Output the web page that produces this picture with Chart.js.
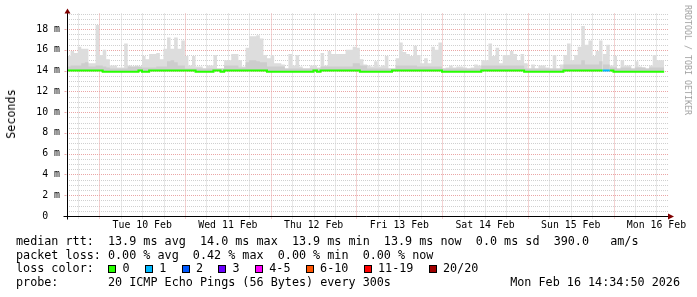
<!DOCTYPE html>
<html>
<head>
<meta charset="utf-8">
<script src="https://cdn.jsdelivr.net/npm/chart.js@4.4.1/dist/chart.umd.min.js"></script>
<style>
  html, body { margin: 0; padding: 0; background: #fff; }
  #wrap { position: relative; width: 697px; height: 297px; overflow: hidden;
          font-family: "DejaVu Sans Mono", monospace; color: #000; }
  #wrap canvas { position: absolute; left: 0; top: 0; }
  .txt { position: absolute; white-space: pre; font-size: 11.76px; line-height: 13.6px; }
  .rot { position: absolute; white-space: pre; transform: translate(-50%, -50%) rotate(-90deg); }
  .box { display: inline-block; width: 8px; height: 8px; box-sizing: border-box;
         border: 1px solid #000; vertical-align: -0.5px; }
  .loss-item { display: inline-block; margin-right: 15.3px; }
  .loss-item span.lbl { margin-left: 6.3px; }
</style>
</head>
<body>
<div id="wrap">
  <canvas id="chart" width="697" height="297"></canvas>
  <div class="rot" style="left:10.8px; top:114px; font-size:11.76px;">Seconds</div>
  <div class="rot" style="left:687.5px; top:60px; font-size:8.3px; color:#a0a0a0; transform:translate(-50%,-50%) rotate(90deg);">RRDTOOL / TOBI OETIKER</div>
  <div class="txt" id="row1" style="left:16px; top:234.9px;"></div>
  <div class="txt" id="row2" style="left:16px; top:248.5px;"></div>
  <div class="txt" style="left:16px; top:262.1px;">loss color:</div>
  <div class="txt" id="lossRow" style="left:108.3px; top:262.1px;"></div>
  <div class="txt" id="row4" style="left:16px; top:275.7px;"></div>
  <div class="txt" id="stamp" style="right:17px; top:275.7px;"></div>
</div>
<script>
// ── Data (hourly bins over 7 days, milliseconds) ─────────
const dayLabels = ['Tue 10 Feb', 'Wed 11 Feb', 'Thu 12 Feb', 'Fri 13 Feb', 'Sat 14 Feb', 'Sun 15 Feb', 'Mon 16 Feb'];
const firstMidnight = 9.05;   // hours from graph start to Tue 00:00
const spanHours = 168;
const dataEnd = 167.2;
const yMax = 19.5;

const smokeMax = [
  16.4,15.4,15.9,15.7,16.3,16.1,16.1,14.7,14.7,18.4,15.5,16.0,
  15.1,14.5,14.5,14.3,14.3,16.6,14.5,14.4,14.5,14.4,15.4,15.1,
  15.6,15.6,15.7,15.1,16.1,17.2,16.1,17.2,16.1,16.9,15.4,14.5,
  15.4,14.4,14.4,14.2,14.5,14.5,15.5,14.2,14.2,15.0,15.0,15.6,
  15.6,15.0,14.4,16.2,17.3,17.3,17.4,17.1,15.5,15.2,15.5,14.7,
  14.7,14.6,14.2,15.6,14.5,15.5,14.4,14.2,14.2,14.5,14.5,14.3,
  15.7,14.5,15.9,15.6,15.6,15.6,15.6,16.0,16.0,16.3,16.2,15.1,
  14.6,14.5,14.4,14.9,14.4,14.5,15.4,14.2,14.2,15.2,16.7,15.8,
  15.6,15.4,16.4,15.5,14.7,15.2,14.7,16.3,16.0,16.7,14.2,14.3,
  14.5,14.3,14.4,14.4,14.3,14.2,14.3,14.6,14.5,15.0,15.0,16.6,
  15.4,16.2,14.7,15.5,15.5,15.9,15.6,15.0,15.6,14.7,14.2,14.6,
  14.2,14.5,14.5,14.3,14.2,15.5,14.2,14.6,15.5,16.6,15.0,15.5,
  16.3,18.3,16.5,16.9,15.4,15.9,16.9,15.6,16.5,14.5,15.4,14.2,
  15.0,14.5,14.5,14.2,14.9,14.4,14.3,14.2,14.5,15.5,15.0,15.0
];

const smokeMid = [
  14.4,14.4,14.5,14.5,14.5,14.7,14.8,14.4,14.4,14.5,14.5,14.4,
  14.3,14.2,14.2,14.2,14.2,14.2,14.4,14.4,14.4,14.4,14.3,14.3,
  14.3,14.3,14.4,14.4,14.4,14.9,15.0,14.8,14.5,14.5,14.2,14.2,
  14.2,14.2,14.2,14.2,14.2,14.2,14.2,14.2,14.2,14.5,14.5,14.5,
  14.5,14.3,14.3,14.8,15.0,15.0,14.9,14.8,14.8,14.4,14.4,14.4,
  14.4,14.4,14.2,14.2,14.2,14.2,14.2,14.2,14.2,14.2,14.2,14.2,
  14.4,14.4,14.4,14.4,14.4,14.4,14.4,14.4,14.4,14.7,14.7,14.5,
  14.5,14.2,14.2,14.2,14.2,14.2,14.2,14.2,14.2,14.5,14.5,14.5,
  14.5,14.5,14.5,14.4,14.4,14.4,14.4,14.4,14.4,14.4,14.2,14.2,
  14.2,14.2,14.2,14.2,14.2,14.2,14.2,14.2,14.2,14.5,14.5,14.5,
  14.5,14.5,14.5,14.5,14.5,14.5,14.5,14.5,14.5,14.2,14.2,14.2,
  14.2,14.2,14.2,14.2,14.2,14.2,14.2,14.2,14.6,14.6,14.6,14.6,
  14.6,15.0,14.6,14.6,14.6,14.6,14.9,14.6,14.6,14.3,14.3,14.2,
  14.3,14.3,14.3,14.2,14.3,14.3,14.3,14.2,14.3,14.3,14.3,14.3
];

const medianRtt = [
  14.0,14.0,14.0,14.0,14.0,14.0,14.0,14.0,14.0,14.0,14.0,13.9,
  13.9,13.9,13.9,13.9,13.9,13.9,13.9,13.9,13.9,14.0,13.9,13.9,
  14.0,14.0,14.0,14.0,14.0,14.0,14.0,14.0,14.0,14.0,14.0,14.0,
  14.0,13.9,13.9,13.9,13.9,13.9,14.0,14.0,13.9,14.0,14.0,14.0,
  14.0,14.0,14.0,14.0,14.0,14.0,14.0,14.0,14.0,13.9,13.9,13.9,
  13.9,13.9,13.9,13.9,13.9,13.9,13.9,13.9,13.9,13.9,14.0,13.9,
  14.0,14.0,14.0,14.0,14.0,14.0,14.0,14.0,14.0,14.0,14.0,13.9,
  13.9,13.9,13.9,13.9,13.9,13.9,13.9,13.9,14.0,14.0,14.0,14.0,
  14.0,14.0,14.0,14.0,14.0,14.0,14.0,14.0,14.0,14.0,13.9,13.9,
  13.9,13.9,13.9,13.9,13.9,13.9,13.9,13.9,13.9,14.0,14.0,14.0,
  14.0,14.0,14.0,14.0,14.0,14.0,14.0,14.0,14.0,13.9,13.9,13.9,
  13.9,13.9,13.9,13.9,13.9,13.9,13.9,13.9,14.0,14.0,14.0,14.0,
  14.0,14.0,14.0,14.0,14.0,14.0,14.0,14.0,14.0,14.0,13.9,13.9,
  13.9,13.9,13.9,13.9,13.9,13.9,13.9,13.9,13.9,13.9,13.9,13.9
];

// lost pings per bin (out of 20)
const lossCount = [
  0,0,0,0,0,0,0,0,0,0,0,0, 0,0,0,0,0,0,0,0,0,0,0,0,
  0,0,0,0,0,0,0,0,0,0,0,0, 0,0,0,0,0,0,0,0,0,0,0,0,
  0,0,0,0,0,0,0,0,0,0,0,0, 0,0,0,0,0,0,0,0,0,0,0,0,
  0,0,0,0,0,0,0,0,0,0,0,0, 0,0,0,0,0,0,0,0,0,0,0,0,
  0,0,0,0,0,0,0,0,0,0,0,0, 0,0,0,0,0,0,0,0,0,0,0,0,
  0,0,0,0,0,0,0,0,0,0,0,0, 0,0,0,0,0,0,0,0,0,0,0,0,
  0,0,0,0,0,0,1,1,0,0,0,0, 0,0,0,0,0,0,0,0,0,0,0,0
];

const lossLabels = ['0', '1', '2', '3', '4-5', '6-10', '11-19', '20/20'];
const lossLimits = [0, 1, 2, 3, 5, 10, 19, 20];
const lossColors = ['#26ff00', '#00b8ff', '#0059ff', '#6a00ff', '#ff00ff', '#ff5500', '#ff0000', '#a00000'];

const legendRows = {
  row1: 'median rtt:  13.9 ms avg  14.0 ms max  13.9 ms min  13.9 ms now  0.0 ms sd  390.0   am/s',
  row2: 'packet loss: 0.00 % avg  0.42 % max  0.00 % min  0.00 % now',
  row4: 'probe:       20 ICMP Echo Pings (56 Bytes) every 300s',
  stamp: 'Mon Feb 16 14:34:50 2026',
};

// ── Helpers ──────────────────────────────────────────────
const GRID  = '#d0d0d0';
const MGRID = '#eaa6a6';
const MONO  = '"DejaVu Sans Mono", monospace';

function toPoints(values) {
  const pts = values.map((v, i) => ({ x: i, y: v }));
  pts.push({ x: dataEnd, y: values[values.length - 1] });
  return pts;
}

function lossColorFor(n) {
  const idx = lossLimits.findIndex(l => n <= l);
  return lossColors[idx < 0 ? lossColors.length - 1 : idx];
}

// 6-hour grid steps, k = 0 at the first midnight
function xGridValues() {
  const out = [];
  for (let k = -1; firstMidnight + 6 * k <= spanHours; k++) out.push({ v: firstMidnight + 6 * k, k });
  return out;
}
function yGridValues() {
  const out = [];
  for (let v = 0; v <= yMax; v += 0.5) out.push(v);
  return out;
}
function hourTickIndex(v) { return Math.round((v - firstMidnight) / 6); }

// ── Dotted rrdtool grid, under the data ──────────────────
const rrdGrid = {
  id: 'rrdGrid',
  beforeDatasetsDraw(chart) {
    const { ctx, chartArea: a, scales: { x, y } } = chart;
    ctx.save();
    ctx.lineWidth = 1;
    ctx.setLineDash([1, 1]);
    for (const v of yGridValues()) {
      if (v === 0) continue;
      const py = Math.round(y.getPixelForValue(v)) + 0.5;
      ctx.strokeStyle = v % 2 === 0 ? MGRID : GRID;
      ctx.beginPath(); ctx.moveTo(a.left, py); ctx.lineTo(a.right + 1, py); ctx.stroke();
    }
    for (const { v, k } of xGridValues()) {
      const px = Math.round(x.getPixelForValue(v)) + 0.5;
      ctx.strokeStyle = k % 4 === 0 ? MGRID : GRID;
      ctx.beginPath(); ctx.moveTo(px, a.top); ctx.lineTo(px, a.bottom + 3); ctx.stroke();
    }
    ctx.restore();
  }
};

// ── Axes + arrows ────────────────────────────────────────
const rrdAxes = {
  id: 'rrdAxes',
  afterDraw(chart) {
    const { ctx, chartArea: a, scales: { y } } = chart;
    const x0 = Math.round(a.left) + 0.5, y0 = Math.round(a.bottom) + 0.5;
    ctx.save();
    ctx.strokeStyle = '#000';
    ctx.lineWidth = 1;
    ctx.beginPath();
    ctx.moveTo(x0 - 4, y0); ctx.lineTo(a.right + 2, y0);
    ctx.moveTo(x0, y0 + 3); ctx.lineTo(x0, a.top - 1);
    ctx.stroke();
    ctx.strokeStyle = MGRID;
    ctx.beginPath();
    for (const v of yGridValues()) {
      if (v % 2 !== 0 || v === 0) continue;
      const py = Math.round(y.getPixelForValue(v)) + 0.5;
      ctx.moveTo(x0 - 3, py); ctx.lineTo(x0 - 1, py);
    }
    ctx.stroke();
    ctx.fillStyle = '#7f0000';
    ctx.beginPath();
    ctx.moveTo(x0, a.top - 5); ctx.lineTo(x0 - 3, a.top); ctx.lineTo(x0 + 3, a.top); ctx.closePath();
    ctx.fill();
    ctx.beginPath();
    ctx.moveTo(a.right + 7, y0); ctx.lineTo(a.right + 1, y0 - 3); ctx.lineTo(a.right + 1, y0 + 3); ctx.closePath();
    ctx.fill();
    ctx.restore();
  }
};

// ── Chart ────────────────────────────────────────────────
new Chart(document.getElementById('chart'), {
  type: 'line',
  data: {
    datasets: [
      { label: 'max', data: toPoints(smokeMax), stepped: 'after', order: 3,
        borderWidth: 0, pointRadius: 0, backgroundColor: '#dddddd', fill: '+2' },
      { label: 'mid', data: toPoints(smokeMid), stepped: 'after', order: 2,
        borderWidth: 0, pointRadius: 0, backgroundColor: '#cdcdcd', fill: '+1' },
      { label: 'median', data: toPoints(medianRtt), stepped: 'after', order: 1,
        borderWidth: 2, pointRadius: 0, fill: false, borderColor: lossColors[0],
        segment: { borderColor: c => lossColorFor(lossCount[c.p0DataIndex] || 0) } },
    ],
  },
  options: {
    responsive: false, animation: false,
    layout: { padding: { left: 0, top: 13.5, right: 30, bottom: 0 } },
    plugins: { legend: { display: false }, tooltip: { enabled: false } },
    scales: {
      x: {
        type: 'linear', min: 0, max: spanHours,
        afterFit: s => { s.height = 81; },
        afterBuildTicks: s => { s.ticks = xGridValues().map(g => ({ value: g.v })); },
        grid: { display: false, drawTicks: false },
        border: { display: false },
        ticks: {
          autoSkip: false, maxRotation: 0, minRotation: 0, padding: 4, color: '#000',
          font: { family: MONO, size: 9.85 },
          callback: v => {
            const k = hourTickIndex(v);
            return k % 4 === 2 ? dayLabels[(k - 2) / 4] || '' : '';
          },
        },
      },
      y: {
        min: 0, max: yMax,
        afterFit: s => { s.width = 67; },
        afterBuildTicks: s => { s.ticks = yGridValues().map(v => ({ value: v })); },
        grid: { display: false, drawTicks: false },
        border: { display: false },
        ticks: {
          autoSkip: false, padding: 7, color: '#000', font: { family: MONO, size: 9.85 },
          callback: v => (v % 2 !== 0 ? '' : v === 0 ? '0  ' : v + ' m'),
        },
      },
    },
  },
  plugins: [rrdGrid, rrdAxes],
});

// ── Legend text ──────────────────────────────────────────
for (const id of ['row1', 'row2', 'row4', 'stamp']) {
  document.getElementById(id).textContent = legendRows[id];
}
document.getElementById('lossRow').innerHTML = lossLabels.map((l, i) =>
  `<span class="loss-item"><span class="box" style="background:${lossColors[i]}"></span><span class="lbl">${l}</span></span>`
).join('');
</script>
</body>
</html>
